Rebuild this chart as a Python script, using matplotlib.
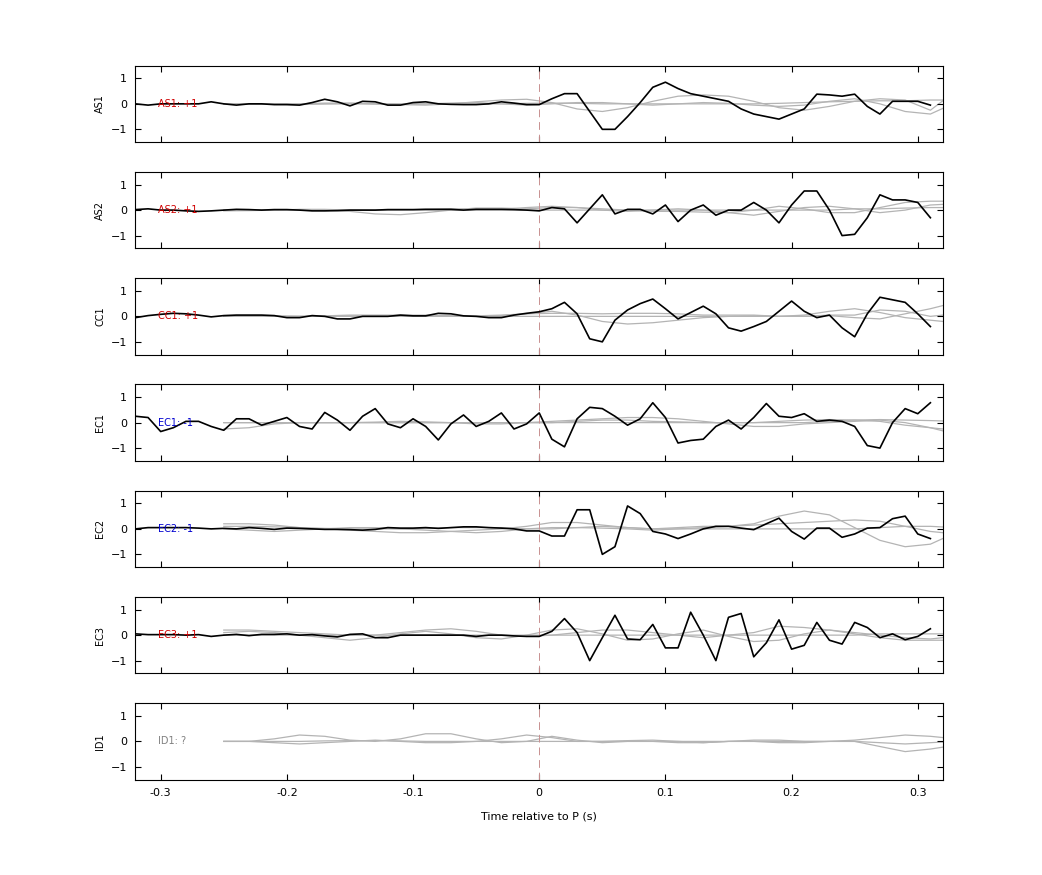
import numpy as np
import matplotlib
matplotlib.use("Agg")
import matplotlib.pyplot as plt

t0, dt = -0.32, 0.01
g0, gdt = -0.25, 0.02

stations = ["AS1", "AS2", "CC1", "EC1", "EC2", "EC3", "ID1"]
labels = ["AS1: +1", "AS2: +1", "CC1: +1", "EC1: -1", "EC2: -1", "EC3: +1", "ID1: ?"]
label_colors = ["#d00000", "#d00000", "#d00000", "#0000d0", "#0000d0", "#d00000", "#808080"]

AS1 = [0,-0.05,0,0,0,0,0.08,0,-0.05,0,0,-0.03,-0.03,-0.05,0.05,0.18,0.08,-0.08,0.1,0.08,-0.05,-0.05,0.05,0.08,0,-0.02,-0.03,-0.03,0,0.08,0.03,-0.03,
       -0.03,0.2,0.4,0.4,-0.3,-1.0,-1.0,-0.5,0.05,0.65,0.85,0.6,0.4,0.3,0.2,0.1,-0.2,-0.4,-0.5,-0.6,-0.4,-0.2,0.38,0.35,0.3,0.38,-0.1,-0.4,0.1,0.1,0.1,-0.05]
AS2 = [0.02,0.05,0,0,-0.03,-0.05,-0.03,0,0.03,0.02,0,0.02,0.02,0,-0.03,-0.03,-0.02,0,0,0,0.02,0.02,0.02,0.03,0.03,0.03,0,0.03,0.03,0.03,0.02,0,
       -0.03,0.1,0.05,-0.5,0.05,0.6,-0.15,0.03,0.03,-0.15,0.2,-0.45,0,0.2,-0.2,0,0,0.3,0,-0.5,0.2,0.75,0.75,0,-1.0,-0.95,-0.3,0.6,0.4,0.4,0.3,-0.3]
CC1 = [-0.05,0.03,0.08,0.12,0.1,0.05,-0.02,0.03,0.05,0.05,0.05,0.03,-0.05,-0.05,0.03,0,-0.1,-0.1,0,0,0,0.05,0.02,0.02,0.12,0.1,0.02,0,-0.05,-0.05,0.05,0.12,
       0.18,0.3,0.55,0.1,-0.88,-1.0,-0.15,0.25,0.5,0.68,0.3,-0.1,0.15,0.4,0.1,-0.45,-0.58,-0.4,-0.2,0.2,0.6,0.2,-0.05,0.05,-0.45,-0.8,0.1,0.75,0.65,0.55,0.1,-0.4]
EC1 = [0.25,0.2,-0.35,-0.2,0.05,0.05,-0.15,-0.3,0.15,0.15,-0.1,0.05,0.2,-0.15,-0.25,0.4,0.1,-0.3,0.25,0.55,-0.05,-0.2,0.15,-0.15,-0.68,-0.05,0.3,-0.15,0.05,0.38,-0.25,-0.05,
       0.38,-0.65,-0.95,0.15,0.6,0.55,0.25,-0.1,0.15,0.78,0.2,-0.8,-0.7,-0.65,-0.15,0.1,-0.25,0.2,0.75,0.25,0.2,0.35,0.05,0.1,0.05,-0.15,-0.9,-1.0,0,0.55,0.35,0.78]
EC2 = [0,0.05,0.05,0.05,0.05,0.03,0,0.02,0,0.05,0.02,-0.02,0.03,0.02,0,-0.02,-0.02,-0.03,-0.05,-0.02,0.05,0.03,0.03,0.05,0.02,0.05,0.08,0.08,0.05,0.03,0,-0.08,
       -0.08,-0.28,-0.28,0.75,0.75,-1.0,-0.7,0.9,0.6,-0.1,-0.2,-0.38,-0.2,0,0.1,0.1,0.03,-0.03,0.2,0.42,-0.1,-0.4,0.03,0.03,-0.33,-0.2,0.03,0.05,0.4,0.5,-0.2,-0.38]
EC3 = [0.05,0.02,0.02,0.02,0,0.02,-0.05,0,0.03,-0.02,0.03,0.03,0.05,0,0.02,-0.03,-0.07,0.03,0.05,-0.1,-0.1,0,0,0,0,0,0,-0.05,0,0,-0.03,-0.05,
       -0.05,0.15,0.65,0.1,-1.0,-0.1,0.78,-0.15,-0.18,0.42,-0.5,-0.5,0.9,0,-1.0,0.7,0.85,-0.85,-0.3,0.6,-0.55,-0.4,0.5,-0.2,-0.35,0.5,0.3,-0.1,0.05,-0.18,-0.05,0.25]
ID1 = None
black = [AS1, AS2, CC1, EC1, EC2, EC3, ID1]

# gray traces sampled every 0.02 s from -0.25 s
gray = {
 "AS1": [[0,0,0,0,0.03,0.03,0,-0.03,-0.05,0,0.08,0.15,0.18,0.05,-0.2,-0.3,-0.15,0.1,0.3,0.35,0.3,0.1,-0.15,-0.25,-0.1,0.1,0.2,0.15,-0.25,0.5],
         [0,0,-0.02,-0.03,0,0.02,0,-0.02,0,0.03,0.05,0,-0.05,0,0.05,0.05,0,-0.05,0,0.05,0.02,-0.05,-0.1,-0.05,0.1,0.2,0,-0.3,-0.4,0.05],
         [0,0,0,0,0,0,0,0,0,0,0,0,0.02,0.03,0.02,0,0,0,0,0,0,0,0.02,0.05,0.08,0.1,0.12,0.12,0.15,0.15]],
 "AS2": [[-0.03,-0.02,0,0.02,0,-0.05,-0.15,-0.18,-0.1,0,0.08,0.08,0.05,0.1,0.1,0,-0.05,0,0.05,0,-0.1,-0.2,-0.05,0.1,0.15,0.05,-0.1,0,0.2,0.25],
         [0,0,0,0.03,0.03,0,0,0,0.03,0.05,0.05,0.03,0.1,0.15,0.1,0.05,0,-0.05,-0.05,-0.08,-0.1,0,0.15,0.05,-0.1,-0.1,0.1,0.3,0.35,0.35],
         [0,0,0,0,0,0,0,0,0,0,0,0,0,0,0,0,0,0,0,0,0,0,0,0,0,0.05,0.05,0.08,0.1,0.1]],
 "CC1": [[0,0,0,0,0,0.02,0.02,0.02,0,0,0,0.03,0.1,0.2,0.05,-0.2,-0.3,-0.25,-0.15,-0.05,0,0.02,0,0.05,0.2,0.3,0.15,-0.05,-0.15,-0.25],
         [0.03,0.03,0.02,0,0.02,0.05,0.05,0.05,0.05,0.03,0.02,0.05,0.1,0.12,0.12,0.1,0.12,0.12,0.1,0.05,0.05,0.05,0,0,0.05,0.05,0.25,0.2,0,0.1],
         [0,0,0,0,0,0,0,0,0,0,0,0,0,0,0,0,0,0,0,0,0,0,0,0,0.03,-0.05,-0.1,0.1,0.3,0.55]],
 "EC1": [[-0.25,-0.2,-0.05,0,0,0,0,0,0,0,-0.05,-0.05,0,0.05,0.1,0.15,0.2,0.2,0.15,0.05,-0.05,-0.15,-0.15,-0.05,0,0.05,0.1,0,-0.2,-0.45],
         [0,0,0,0,0,0,0.02,0.05,0.03,0,0,0,0,0,0.05,0.1,0.1,0.05,0.03,0,0,0,0.05,0.1,0.12,0.1,0.05,-0.1,-0.2,-0.3],
         [0,0,0,0,0,0,0,0,0,0,0,0,0,0,0,0,0,0,0,0,0,0,0,0,0.05,0.1,0.12,0.1,0.08,0.05]],
 "EC2": [[0.2,0.2,0.15,0.05,0,-0.05,-0.1,-0.15,-0.15,-0.1,-0.05,0,0.1,0.25,0.25,0.15,0.05,0,0.05,0.1,0.1,0.2,0.5,0.7,0.55,0.05,-0.45,-0.7,-0.6,-0.15],
         [0,-0.05,-0.1,-0.05,0,0.05,0.05,0,-0.05,-0.1,-0.15,-0.1,0,0.05,0.05,0.03,0,-0.05,0,0.05,0.1,0.15,0.2,0.25,0.3,0.35,0.3,0.1,-0.1,-0.2],
         [0.1,0.1,0.08,0.05,0.02,0,0,0,0.02,0.05,0.05,0.05,0,0,0.05,0.1,0.05,0,0,0,0,0,0,0,0,0,0.05,0.1,0.1,0.05]],
 "EC3": [[0.1,0.15,0.1,0,-0.1,-0.2,-0.1,0.05,0.15,0.05,-0.1,-0.15,0,0.2,0.25,0.05,-0.2,-0.15,0.05,0.2,-0.05,-0.25,-0.2,0.05,0.2,0.05,-0.1,-0.2,-0.2,-0.2],
         [0.2,0.2,0.15,0.1,0.05,0,0,0.1,0.2,0.25,0.15,0,-0.05,0,0.1,0.2,0.2,0.1,0,-0.1,0,0.1,0.35,0.3,0.2,0.1,0,-0.1,-0.15,-0.05],
         [0,0,0,0,0,0,0,0,0,0,0,0,0,0,0,0,0,0,0,0,0,0,0,0,0,0,0.05,0.05,0.05,0.05]],
 "ID1": [[0,0,0.1,0.25,0.2,0.05,0,0.1,0.3,0.3,0.1,-0.05,0,0.2,0.05,-0.05,0,0,-0.05,-0.05,0,0,-0.05,-0.05,0,0,-0.2,-0.4,-0.3,-0.15],
         [0,0,-0.05,-0.1,-0.05,0,0.05,0,-0.05,-0.05,0,0.1,0.25,0.15,0,0,0.03,0.05,0,-0.05,0,0.05,0.05,0,0,0.05,0.15,0.25,0.2,0.1],
         [0,0,0,0,0.02,0.03,0.03,0.02,0,0,0,0,0,0,0,0,0,0,0,0,0,0,0,0,0,0,-0.05,-0.1,-0.05,0]],
}

fig, axes = plt.subplots(7, 1, figsize=(10.42, 8.75), dpi=100, sharex=True)
fig.subplots_adjust(left=0.13, right=0.905, top=0.925, bottom=0.109, hspace=0.39)

for i, ax in enumerate(axes):
    st = stations[i]
    for g in gray[st]:
        tg = g0 + gdt * np.arange(len(g))
        ax.plot(tg, g, color="#b4b4b4", lw=0.9, zorder=1)
    if black[i] is not None:
        tb = t0 + dt * np.arange(len(black[i]))
        ax.plot(tb, black[i], color="black", lw=1.2, zorder=3)
    ax.axvline(0, color="#c89090", lw=0.7, ls=(0, (8, 5)), zorder=2)
    ax.text(-0.302, 0, labels[i], color=label_colors[i], fontsize=7, va="center", ha="left", zorder=4)
    ax.set_xlim(-0.32, 0.32)
    ax.set_ylim(-1.5, 1.5)
    ax.set_yticks([-1, 0, 1])
    ax.set_ylabel(st, fontsize=7)
    ax.tick_params(labelsize=8, direction="in", top=True, right=True, length=4, pad=6)
    for s in ax.spines.values():
        s.set_linewidth(0.8)
axes[-1].set_xticks([-0.3, -0.2, -0.1, 0, 0.1, 0.2, 0.3])
axes[-1].set_xticklabels(["-0.3", "-0.2", "-0.1", "0", "0.1", "0.2", "0.3"])
axes[-1].set_xlabel("Time relative to P (s)", fontsize=8, labelpad=10)
fig.savefig("out.png", dpi=100)
